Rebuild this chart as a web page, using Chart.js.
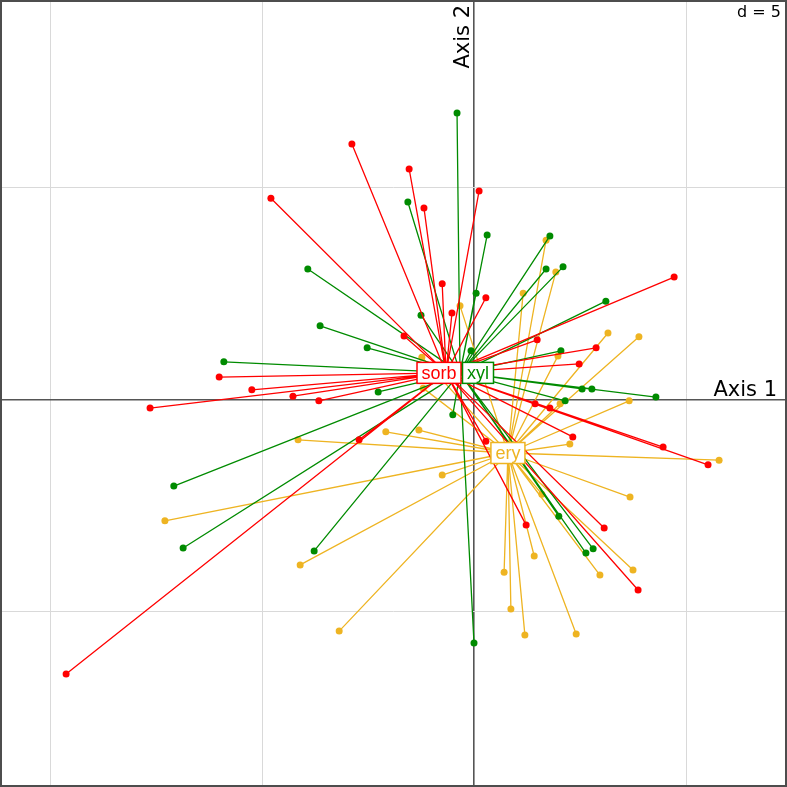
<!DOCTYPE html>
<html>
<head>
<meta charset="utf-8">
<script src="https://cdn.jsdelivr.net/npm/chart.js@4"></script>
<style>
  body { margin: 0; background: #fff; }
  #wrap { width: 787px; height: 787px; position: relative; }
</style>
</head>
<body>
<div id="wrap"><canvas id="scores"></canvas></div>
<script>
// groups
const groups = ['sorb', 'xyl', 'ery'];

// sorb scores (Axis 1, Axis 2)
const sorbX = [-2.88, -4.79, -1.53, -1.18, 0.12, -0.75, 0.28, -0.52, -1.65, 1.49, 2.88, 2.48, 4.72, -6.01, -5.24,
  -4.27, -3.66, -7.64, -2.71, -9.62, 1.44, 1.79, 0.28, 2.33, 4.46, 5.52, 1.23, 3.07, 3.87];
const sorbY = [6.04, 4.76, 5.45, 4.53, 4.93, 2.74, 2.41, 2.05, 1.51, 1.42, 1.23, 0.85, 2.90, 0.54, 0.24,
  0.09, -0.02, -0.19, -0.94, -6.46, -0.09, -0.19, -0.97, -0.87, -1.11, -1.53, -2.95, -3.02, -4.48];

// xyl scores
const xylX = [-0.40, -1.56, 0.31, 1.79, 1.70, 2.10, 0.05, 3.11, -1.25, -3.92, -3.63, -2.52, -0.07, 2.05,
  -5.90, -2.26, 2.55, 2.78, 4.29, 2.15, -0.50, -7.08, -6.86, -3.77, 2.00, 2.81, 2.64, 0.00];
const xylY = [6.77, 4.67, 3.89, 3.87, 3.09, 3.14, 2.52, 2.33, 2.00, 3.09, 1.75, 1.23, 1.16, 1.16,
  0.90, 0.19, 0.26, 0.26, 0.07, -0.02, -0.35, -2.03, -3.49, -3.56, -2.74, -3.51, -3.61, -5.73];

// ery scores
const eryX = [1.70, 1.93, 1.16, -0.33, 3.16, 3.89, 1.98, -1.23, -1.20, -2.08, -1.30, -4.15, 2.03, 3.66, 2.26,
  5.78, -0.75, 1.60, 3.68, -7.29, -4.10, -3.18, 1.42, 0.71, 0.87, 1.20, 2.41, 2.97, 3.75];
const eryY = [3.77, 3.02, 2.52, 2.22, 1.58, 1.49, 1.04, 1.01, 0.28, -0.75, -0.71, -0.94, -0.09, -0.02, -1.04,
  -1.42, -1.77, -2.22, -2.29, -2.85, -3.89, -5.45, -3.68, -4.06, -4.93, -5.54, -5.52, -4.13, -4.01];

// class centroids
const centroidX = [-0.66, -0.33, 0.80];
const centroidY = [0.64, 0.64, -1.25];

// grid ticks (d = 5)
const xTicks = [-10, -5, 0, 5];
const yTicks = [-5, 0, 5];

const colours = ['#ff0000', '#008b00', '#eeb422'];
const scoresX = [sorbX, xylX, eryX];
const scoresY = [sorbY, xylY, eryY];

const datasets = [];
groups.forEach((g, i) => {
  const spokes = [];
  const pts = [];
  scoresX[i].forEach((x, j) => {
    spokes.push({x: centroidX[i], y: centroidY[i]}, {x: x, y: scoresY[i][j]}, {x: null, y: null});
    pts.push({x: x, y: scoresY[i][j]});
  });
  datasets.push({
    label: g + ' spokes', data: spokes, showLine: true, spanGaps: false,
    borderColor: colours[i], borderWidth: 1.3, pointRadius: 0, pointHoverRadius: 0,
  });
  datasets.push({
    label: g, data: pts, pointRadius: 3.5, pointBackgroundColor: colours[i],
    pointBorderWidth: 0, backgroundColor: colours[i],
  });
});

// border, axis names, d = 5 and class labels
const decorations = {
  id: 'decorations',
  afterDatasetsDraw(chart, args, opts) {
    const {ctx, chartArea: a, scales: {x, y}} = chart;
    ctx.save();
    ctx.strokeStyle = '#4d4d4d';
    ctx.lineWidth = 2;
    ctx.strokeRect(a.left + 1, a.top + 1, a.right - a.left - 2, a.bottom - a.top - 2);

    ctx.fillStyle = '#000';
    ctx.font = '21px "DejaVu Sans"';
    ctx.textAlign = 'right';
    ctx.textBaseline = 'alphabetic';
    ctx.fillText('Axis 1', a.right - 10, y.getPixelForValue(0) - 4);
    ctx.save();
    ctx.translate(x.getPixelForValue(0) - 5, a.top + 5);
    ctx.rotate(-Math.PI / 2);
    ctx.fillText('Axis 2', 0, 0);
    ctx.restore();
    ctx.font = '16px "DejaVu Sans"';
    ctx.textBaseline = 'top';
    ctx.fillText('d = 5', a.right - 6, a.top + 5);

    ctx.font = '18px "Liberation Sans"';
    ctx.textAlign = 'center';
    ctx.textBaseline = 'middle';
    groups.forEach((g, i) => {
      const cx = x.getPixelForValue(centroidX[i]) + opts.shift[i];
      const cy = y.getPixelForValue(centroidY[i]);
      const w = ctx.measureText(g).width + 9;
      const h = 21;
      ctx.fillStyle = '#fff';
      ctx.fillRect(cx - w / 2, cy - h / 2, w, h);
      ctx.strokeStyle = colours[i];
      ctx.lineWidth = 1.5;
      ctx.strokeRect(cx - w / 2, cy - h / 2, w, h);
      ctx.fillStyle = colours[i];
      ctx.fillText(g, cx, cy + 1);
    });
    ctx.restore();
  }
};

const gridColour = c => c.tick && c.tick.value === 0 ? '#555555' : '#d9d9d9';
const gridWidth = c => c.tick && c.tick.value === 0 ? 1.6 : 1;

new Chart(document.getElementById('scores'), {
  type: 'scatter',
  data: {datasets: datasets},
  plugins: [decorations],
  options: {
    responsive: true,
    maintainAspectRatio: false,
    animation: false,
    layout: {padding: 0, autoPadding: false},
    plugins: {
      legend: {display: false},
      tooltip: {enabled: false},
      decorations: {shift: [-7, 18, 0]},
    },
    scales: {
      x: {
        min: -474 / 42.4, max: 313 / 42.4,
        afterBuildTicks: s => { s.ticks = xTicks.map(v => ({value: v})); },
        ticks: {display: false},
        border: {display: false},
        grid: {drawTicks: false, color: gridColour, lineWidth: gridWidth},
      },
      y: {
        min: -387 / 42.4, max: 400 / 42.4,
        afterBuildTicks: s => { s.ticks = yTicks.map(v => ({value: v})); },
        ticks: {display: false},
        border: {display: false},
        grid: {drawTicks: false, color: gridColour, lineWidth: gridWidth},
      },
    },
  },
});
</script>
</body>
</html>
